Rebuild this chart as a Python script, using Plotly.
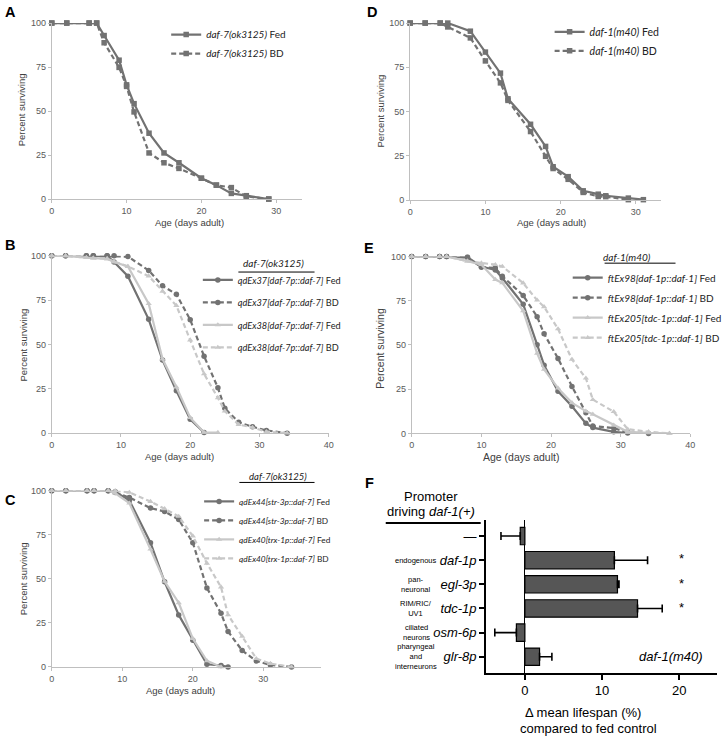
import plotly.graph_objects as go

W, H = 727, 739
def fx(px): return px / W
def fy(py): return 1 - py / H

DARK = '#727272'
LIGHT = '#c8c8c8'

# ---------------- data ----------------
A_days_fed = [0, 2, 5, 6, 7, 9, 10, 11, 13, 15, 17, 20, 22, 24, 26, 29]
A_fed = [100, 100, 100, 100, 92.9, 78.9, 64.9, 54.2, 37.4, 26.2, 20.6, 11.8, 7.9, 3.2, 1.9, 0]
A_days_bd = [0, 2, 5, 6, 7, 9, 10, 11, 13, 15, 17, 20, 22, 24, 26, 29]
A_bd = [100, 100, 100, 100, 88.8, 74.8, 64, 49.5, 26.2, 20.6, 17.4, 11.8, 7.9, 6.5, 1.5, 0]

D_days_fed = [0, 2, 4, 5, 8, 10, 12, 13, 16, 18, 19, 21, 23, 25, 26, 29, 31]
D_fed = [100, 100, 100, 100, 95.4, 83.6, 71.7, 57.2, 42.8, 30.3, 18.8, 13.2, 5.2, 3.3, 2.4, 1.1, 0.2]
D_days_bd = [0, 2, 4, 5, 8, 10, 12, 13, 16, 18, 19, 21, 23, 25, 26, 29]
D_bd = [100, 100, 100, 97.8, 91.6, 78.6, 66.2, 56.3, 38.7, 24.7, 17.8, 11.7, 4.3, 2.0, 1.9, 0.2]

B_days_37f = [0, 2, 5, 6, 8, 9, 11, 14, 16, 18, 20, 22]
B_37f = [100, 100, 100, 100, 100, 96.5, 88.5, 64.2, 41.2, 23.9, 7.8, 0.4]
B_days_37bd = [0, 2, 5, 6, 8, 9, 11, 14, 16, 18, 20, 22, 24, 25, 27, 29, 31, 34]
B_37bd = [100, 100, 100, 100, 100, 100, 99.6, 91.8, 83.1, 78.3, 64, 43.4, 25.6, 14, 6.1, 3.6, 1.5, 0]
B_days_38f = [0, 2, 5, 6, 8, 9, 11, 14, 16, 18, 20, 22, 24]
B_38f = [100, 100, 99, 98.7, 98.3, 96.5, 94, 73, 41.8, 26, 8.7, 0.4, 0.3]
B_days_38bd = [0, 2, 5, 6, 8, 9, 11, 14, 16, 18, 20, 22, 24, 25, 27, 29, 31, 34]
B_38bd = [100, 100, 99, 98.7, 98.3, 96.8, 94, 88.6, 80, 72, 52.5, 33.4, 19.9, 12.4, 4.8, 3.2, 0.8, 0]

C_days_44f = [0, 2, 5, 6, 8, 9, 11, 14, 16, 18, 20, 22, 24, 25]
C_44f = [100, 100, 100, 100, 100, 99.4, 94.5, 70.5, 48.3, 29.5, 15.1, 1.5, 0.8, 0]
C_days_44bd = [0, 2, 5, 6, 8, 9, 11, 14, 16, 18, 20, 22, 24, 25, 27, 29, 31, 34]
C_44bd = [100, 100, 100, 100, 100, 99, 96.1, 90.1, 88.2, 83.6, 70.5, 44.8, 30.4, 20.1, 9.3, 3.4, 1.1, 0]
C_days_40f = [0, 2, 5, 6, 8, 9, 11, 14, 16, 18, 20, 22, 24]
C_40f = [100, 100, 100, 100, 100, 98.5, 92.9, 66.8, 48.5, 36.4, 16.1, 3.5, 0]
C_days_40bd = [0, 2, 5, 6, 8, 9, 11, 14, 16, 18, 20, 22, 24, 25, 27, 29, 31, 34]
C_40bd = [100, 100, 100, 100, 100, 100, 99, 93.8, 89.7, 85.4, 74.2, 58.8, 45.3, 29.5, 17.3, 4.7, 1.9, 0]

E_days_98f = [0, 2, 4, 5, 8, 10, 12, 13, 16, 18, 19, 21, 23, 25, 26, 29, 31]
E_98f = [100, 100, 100, 100, 99.6, 94.4, 92.4, 87.9, 73, 50.2, 38.6, 23.8, 15.4, 5.7, 3.3, 0.9, 0.2]
E_days_98bd = [0, 2, 4, 5, 8, 10, 12, 13, 16, 18, 19, 21, 23, 25, 26, 29, 31, 34]
E_98bd = [100, 100, 100, 100, 99.4, 94, 93.5, 88.9, 78, 66, 56.3, 42.4, 26.6, 11.7, 4.2, 3, 0.6, 0]
E_days_205f = [0, 2, 4, 5, 8, 10, 12, 13, 16, 18, 19, 21, 23, 25, 26, 29, 31, 34, 37]
E_205f = [100, 100, 100, 100, 97.4, 95.4, 87, 85.1, 69.3, 45.2, 36.2, 25.6, 17.3, 12.6, 10.8, 4.6, 0.9, 0.3, 0]
E_days_205bd = [0, 2, 4, 5, 8, 10, 12, 13, 16, 18, 19, 21, 23, 25, 26, 29, 31, 34, 37]
E_205bd = [100, 100, 100, 100, 97.4, 96.3, 95.4, 94.4, 85, 75.3, 71.6, 59.1, 41.8, 31.2, 19.1, 12.3, 2.4, 0.9, 0]

F_labels = ['—', 'daf-1p', 'egl-3p', 'tdc-1p', 'osm-6p', 'glr-8p']
F_desc = ['', 'endogenous', 'pan-<br>neuronal', 'RIM/RIC/<br>UV1', 'ciliated<br>neurons',
          'pharyngeal<br>and<br>interneurons']
F_vals = [-0.6, 11.6, 12.0, 14.6, -1.1, 1.9]
F_err = [2.5, 4.3, 0.2, 3.2, 2.8, 1.6]
F_sig = ['', '*', '*', '*', '', '']
F_ticks = [0, 10, 20]

SURV_TICKS_Y = [0, 25, 50, 75, 100]

fig = go.Figure()

def surv(ax, days, vals, name, color, dash, symbol, legend):
    fig.add_trace(go.Scatter(
        x=days, y=vals, name=name, mode='lines+markers',
        xaxis='x' + ax, yaxis='y' + ax, legend=legend, legendgroup=name,
        line=dict(color=color, width=2.2, dash=dash),
        marker=dict(color=color, size=5.5, symbol=symbol),
        cliponaxis=False))

SOLID = 'solid'
DASH = '5px,3px'

# A
surv('', A_days_fed, A_fed, '<i>daf-7(ok3125)</i> Fed', DARK, SOLID, 'square', 'legend')
surv('', A_days_bd, A_bd, '<i>daf-7(ok3125)</i> BD', DARK, DASH, 'square', 'legend')
# D
surv('2', D_days_fed, D_fed, '<i>daf-1(m40)</i> Fed', DARK, SOLID, 'square', 'legend2')
surv('2', D_days_bd, D_bd, '<i>daf-1(m40)</i> BD', DARK, DASH, 'square', 'legend2')
# B
surv('3', B_days_37f, B_37f, '<i>qdEx37[daf-7p::daf-7]</i> Fed', DARK, SOLID, 'circle', 'legend3')
surv('3', B_days_37bd, B_37bd, '<i>qdEx37[daf-7p::daf-7]</i> BD', DARK, DASH, 'circle', 'legend3')
surv('3', B_days_38f, B_38f, '<i>qdEx38[daf-7p::daf-7]</i> Fed', LIGHT, SOLID, 'triangle-up', 'legend3')
surv('3', B_days_38bd, B_38bd, '<i>qdEx38[daf-7p::daf-7]</i> BD', LIGHT, DASH, 'triangle-up', 'legend3')
# E
surv('4', E_days_98f, E_98f, '<i>ftEx98[daf-1p::daf-1]</i> Fed', DARK, SOLID, 'circle', 'legend4')
surv('4', E_days_98bd, E_98bd, '<i>ftEx98[daf-1p::daf-1]</i> BD', DARK, DASH, 'circle', 'legend4')
surv('4', E_days_205f, E_205f, '<i>ftEx205[tdc-1p::daf-1]</i> Fed', LIGHT, SOLID, 'triangle-up', 'legend4')
surv('4', E_days_205bd, E_205bd, '<i>ftEx205[tdc-1p::daf-1]</i> BD', LIGHT, DASH, 'triangle-up', 'legend4')
# C
surv('5', C_days_44f, C_44f, '<i>qdEx44[str-3p::daf-7]</i> Fed', DARK, SOLID, 'circle', 'legend5')
surv('5', C_days_44bd, C_44bd, '<i>qdEx44[str-3p::daf-7]</i> BD', DARK, DASH, 'circle', 'legend5')
surv('5', C_days_40f, C_40f, '<i>qdEx40[trx-1p::daf-7]</i> Fed', LIGHT, SOLID, 'triangle-up', 'legend5')
surv('5', C_days_40bd, C_40bd, '<i>qdEx40[trx-1p::daf-7]</i> BD', LIGHT, DASH, 'triangle-up', 'legend5')

# F bars
err_plus = [e if v >= 0 else 0 for v, e in zip(F_vals, F_err)]
err_minus = [e if v < 0 else 0 for v, e in zip(F_vals, F_err)]
fig.add_trace(go.Bar(
    x=F_vals, y=F_labels, orientation='h', xaxis='x6', yaxis='y6', showlegend=False,
    width=0.72, marker=dict(color='#565656', line=dict(color='#000', width=1.2)),
    error_x=dict(type='data', symmetric=False, array=err_plus, arrayminus=err_minus,
                 color='#000', thickness=1.6, width=4)))
fig.add_trace(go.Scatter(
    x=[20.3] * len(F_labels), y=F_labels, text=F_sig, mode='text', xaxis='x6', yaxis='y6',
    showlegend=False, textfont=dict(family='Liberation Sans', size=13, color='#000'),
    textposition='middle center'))

TICKF = dict(family='Liberation Sans, Arial', size=9, color='#595959')
def surv_axes(n, xpx, ypx, xrange, dtick=10):
    xk = 'xaxis' + n
    yk = 'yaxis' + n
    fig.layout[xk] = dict(domain=[fx(xpx[0]), fx(xpx[1])], anchor='y' + n, range=xrange,
                          dtick=dtick, tick0=0, showline=True, linecolor='#bfbfbf', linewidth=1,
                          ticks='outside', ticklen=3, tickcolor='#bfbfbf', showgrid=False,
                          zeroline=False, tickfont=TICKF)
    fig.layout[yk] = dict(domain=[fy(ypx[1]), fy(ypx[0])], anchor='x' + n, range=[0, 100],
                          tickvals=SURV_TICKS_Y, showline=True, linecolor='#bfbfbf', linewidth=1,
                          ticks='outside', ticklen=3, tickcolor='#bfbfbf', showgrid=False,
                          zeroline=False, tickfont=TICKF)

surv_axes('', (49.3, 302), (18.3, 196.7), [0, 33.4])
surv_axes('2', (411.7, 665), (18.3, 197.7), [0, 33.3])
surv_axes('3', (49.3, 329.3), (254.3, 434), [0, 40])
surv_axes('4', (413.3, 695), (255, 434.3), [0, 40])
surv_axes('5', (49.3, 321.7), (492.3, 671), [0, 38.2])

fig.layout['xaxis6'] = dict(domain=[fx(488.3), fx(721.7)], anchor='y6', range=[-5.05, 24.87],
                            tickvals=F_ticks, showline=True, linecolor='#000', linewidth=1.5,
                            ticks='outside', ticklen=5, tickcolor='#000', tickwidth=1.5,
                            showgrid=False, zeroline=True, zerolinecolor='#000', zerolinewidth=1.2,
                            tickfont=dict(family='Liberation Sans, Arial', size=13, color='#000'))
fig.layout['yaxis6'] = dict(domain=[fy(677.3), fy(521.7)], anchor='x6', type='category',
                            range=[5.68, -0.68], showline=True, linecolor='#000', linewidth=1.5,
                            ticks='outside', ticklen=5, tickcolor='#000', tickwidth=1.5,
                            tickvals=F_labels,
                            ticktext=[l if l == '—' else '<i>' + l + '</i>' for l in F_labels],
                            showgrid=False,
                            tickfont=dict(family='Liberation Sans, Arial', size=13, color='#000'))

def leg(xpx, ypx, gap, size):
    return dict(x=fx(xpx), y=fy(ypx), xanchor='left', yanchor='top', bgcolor='rgba(0,0,0,0)',
                borderwidth=0, tracegroupgap=gap, itemwidth=30,
                font=dict(family='Lato, Liberation Sans', size=size, color='#222'))

fig.update_layout(
    width=W, height=H, margin=dict(l=0, r=0, t=0, b=0),
    paper_bgcolor='white', plot_bgcolor='white', showlegend=True,
    legend=leg(165, 15.3, 0, 10),
    legend2=leg(552.7, 12.5, 0, 10.5),
    legend3=leg(197, 264, 3.5, 9.2),
    legend4=leg(571, 261.7, 1, 10),
    legend5=leg(198.3, 488.5, 0, 8.3),
)

ann = []
def text(xpx, ypx, t, size=9.5, color='#404040', xanchor='center', angle=0,
         family='Liberation Sans, Arial', bold=False):
    ann.append(dict(x=fx(xpx), y=fy(ypx), xref='paper', yref='paper',
                    text=('<b>%s</b>' % t) if bold else t,
                    showarrow=False, xanchor=xanchor, yanchor='middle', textangle=angle,
                    font=dict(family=family, size=size, color=color)))

# panel letters
for L, xp, yp in [('A', 0, 7), ('D', 366, 7.5), ('B', 0, 243.3), ('E', 363, 246),
                  ('C', 0, 501.7), ('F', 364, 484.7)]:
    text(xp, yp, L, size=14.5, color='#000', xanchor='left', bold=True)

# axis titles
text(188.3, 220.3, 'Age (days adult)')
text(18.3, 106.7, 'Percent surviving', angle=-90)
text(555, 220.7, 'Age (days adult)')
text(381.7, 107.5, 'Percent surviving', angle=-90)
text(178.3, 457.3, 'Age (days adult)')
text(20.5, 345, 'Percent surviving', angle=-90)
text(523.7, 458.3, 'Age (days adult)', size=10.5)
text(381.7, 348, 'Percent surviving', angle=-90, size=10.5)
text(179.2, 695, 'Age (days adult)')
text(20.7, 581.7, 'Percent surviving', angle=-90)

# legend headers
LEGFAM = 'Lato, Liberation Sans'
text(274, 261.7, '<i>daf-7(ok3125)</i>', size=10, color='#222', family=LEGFAM)
text(278, 478.3, '<i>daf-7(ok3125)</i>', size=9.5, color='#222', family=LEGFAM)
text(631, 255, '<i>daf-1(m40)</i>', size=10, color='#222', family=LEGFAM)

# F texts
text(433, 498, 'Promoter', size=13, color='#000')
text(432.5, 513, 'driving <i>daf-1(+)</i>', size=13, color='#000')
text(586, 716.7, 'Δ mean lifespan (%)', size=13, color='#000')
text(592, 733, 'compared to fed control', size=13, color='#000')
text(710, 660.7, '<i>daf-1(m40)</i>', size=13, color='#000', xanchor='right')

for lab, d in zip(F_labels, F_desc):
    if d:
        ann.append(dict(x=fx(418), xref='paper', y=lab, yref='y6', text=d, showarrow=False,
                        xanchor='center', yanchor='middle', align='center',
                        font=dict(family='Liberation Sans, Arial', size=7.5, color='#000')))

fig.update_layout(annotations=ann)

shapes = [
    dict(type='line', xref='paper', yref='paper', x0=fx(238), x1=fx(315), y0=fy(270.7), y1=fy(270.7),
         line=dict(color='#000', width=1)),
    dict(type='line', xref='paper', yref='paper', x0=fx(239), x1=fx(315), y0=fy(484), y1=fy(484),
         line=dict(color='#000', width=1)),
    dict(type='line', xref='paper', yref='paper', x0=fx(608.3), x1=fx(680), y0=fy(261.7), y1=fy(261.7),
         line=dict(color='#000', width=1)),
    dict(type='line', xref='paper', yref='paper', x0=fx(387), x1=fx(483), y0=fy(525), y1=fy(525),
         line=dict(color='#000', width=2)),
]
fig.update_layout(shapes=shapes)

fig.write_html('out.html', config={'displayModeBar': False},
               post_script="document.body.style.margin='0px';")
